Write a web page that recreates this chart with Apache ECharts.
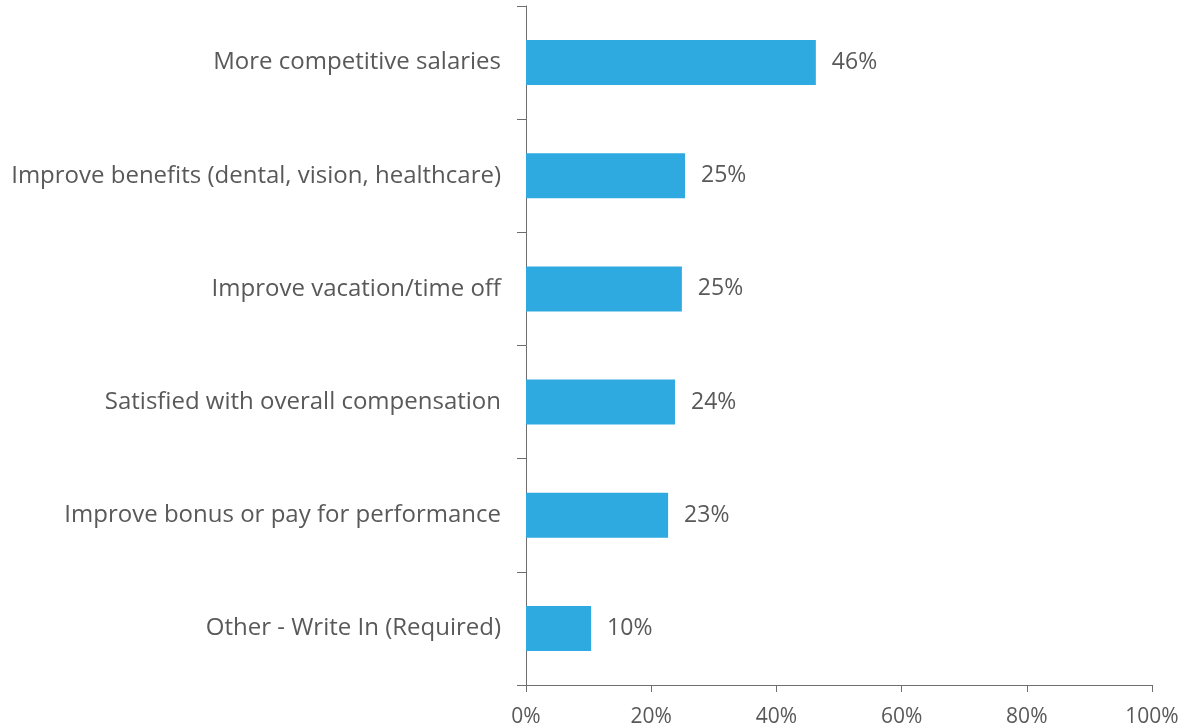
<!DOCTYPE html>
<html>
<head>
<meta charset="UTF-8">
<title>Compensation priorities</title>
<style>
    html,body{margin:0;padding:0;background:#fff;}
    #main{width:1183px;height:728px;}
</style>
<script src="https://cdn.jsdelivr.net/npm/echarts@6/dist/echarts.min.js"></script>
</head>
<body>
<div id="main"></div>
<script>
    // top to bottom as in the picture
    var categories = [
        'More competitive salaries',
        'Improve benefits (dental, vision, healthcare)',
        'Improve vacation/time off',
        'Satisfied with overall compensation',
        'Improve bonus or pay for performance',
        'Other - Write In (Required)'
    ];
    var values = [46.3, 25.4, 24.9, 23.8, 22.7, 10.4];
    var xTicks = [0, 20, 40, 60, 80, 100];

    var textColor = '#595959';
    var axisColor = '#6e6e6e';

    var myChart = echarts.init(document.getElementById('main'));
    var option = {
        animation: false,
        grid: {left: 526, right: 31, top: 6, bottom: 42, containLabel: false},
        xAxis: {
            type: 'value',
            min: xTicks[0],
            max: xTicks[xTicks.length - 1],
            interval: 20,
            splitLine: {show: false},
            axisLine: {show: true, lineStyle: {color: axisColor, width: 1}},
            axisTick: {show: true, length: 7, lineStyle: {color: axisColor}},
            axisLabel: {
                color: textColor,
                fontFamily: 'Open Sans',
                fontSize: 21,
                margin: 22,
                formatter: '{value}%'
            }
        },
        yAxis: {
            type: 'category',
            inverse: true,
            data: categories,
            axisLine: {show: true, lineStyle: {color: axisColor, width: 1}},
            axisTick: {show: true, length: 9, lineStyle: {color: axisColor}},
            axisLabel: {
                color: textColor,
                fontFamily: 'Open Sans',
                fontSize: 24,
                margin: 25
            }
        },
        series: [{
            type: 'bar',
            data: values,
            barWidth: 45,
            itemStyle: {color: '#2eaae1'},
            label: {
                show: true,
                position: 'right',
                distance: 16,
                color: textColor,
                fontFamily: 'Open Sans',
                fontSize: 23,
                formatter: function (p) { return Math.round(p.value) + '%'; }
            }
        }]
    };
    myChart.setOption(option);
</script>
</body>
</html>
